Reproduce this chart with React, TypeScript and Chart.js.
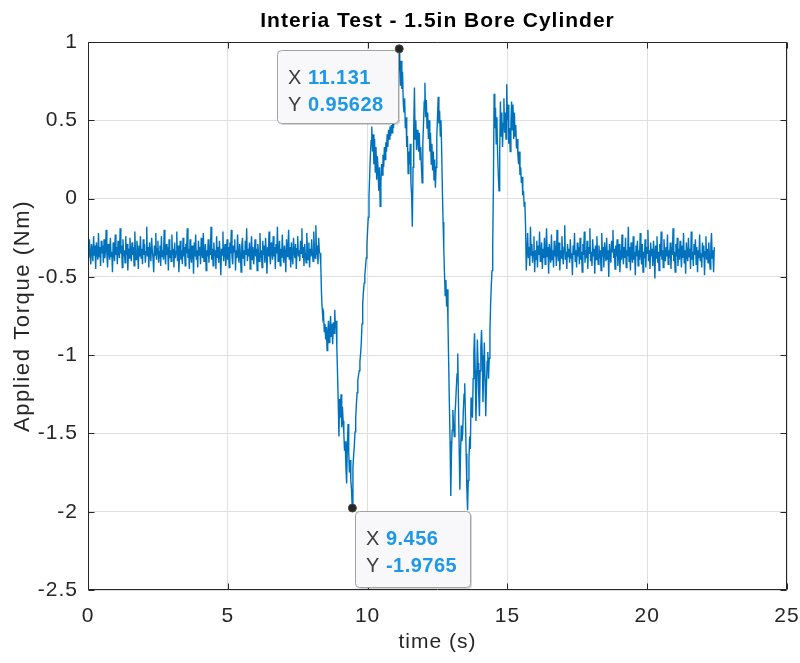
import { useEffect, useRef } from "react";
import { Chart, registerables } from "chart.js";

Chart.register(...registerables);

// ---------- text ----------
const TITLE = "Interia Test - 1.5in Bore Cylinder";
const X_LABEL = "time (s)";
const Y_LABEL = "Applied Torque (Nm)";

// ---------- axes ----------
const X_TICKS = [0, 5, 10, 15, 20, 25];
const Y_TICKS = [-2.5, -2, -1.5, -1, -0.5, 0, 0.5, 1];

// ---------- samples (torque, Nm), sampled every SAMPLE_DT seconds ----------
const SAMPLE_DT = 0.025;
const START_A = 0; // idle before the move
const START_EVENT = 8.3; // the move
const START_B = 15.7; // idle after the move

const BASELINE_A = [
  -.31,-.38,-.26,-.35,-.42,-.29,-.33,-.40,-.24,-.36,-.30,-.45,-.28,-.34,-.39,-.22,-.37,-.31,-.43,-.27,
  -.35,-.30,-.41,-.26,-.38,-.33,-.20,-.36,-.44,-.29,-.32,-.39,-.25,-.37,-.34,-.47,-.28,-.33,-.40,-.23,
  -.36,-.31,-.42,-.27,-.34,-.38,-.19,-.35,-.30,-.44,-.26,-.37,-.33,-.41,-.24,-.36,-.29,-.46,-.32,-.38,
  -.25,-.34,-.40,-.28,-.36,-.31,-.43,-.21,-.35,-.39,-.27,-.33,-.45,-.30,-.37,-.24,-.38,-.32,-.42,-.26,
  -.36,-.29,-.41,-.34,-.18,-.37,-.31,-.44,-.28,-.35,-.40,-.25,-.33,-.38,-.47,-.30,-.36,-.22,-.39,-.32,
  -.27,-.41,-.34,-.30,-.43,-.24,-.37,-.33,-.39,-.20,-.35,-.42,-.29,-.36,-.31,-.46,-.26,-.38,-.33,-.40,
  -.23,-.36,-.32,-.44,-.28,-.38,-.34,-.21,-.40,-.30,-.47,-.35,-.27,-.39,-.33,-.42,-.25,-.37,-.31,-.43,
  -.29,-.35,-.19,-.38,-.32,-.45,-.26,-.36,-.41,-.30,-.34,-.48,-.28,-.37,-.23,-.39,-.33,-.44,-.27,-.36,
  -.31,-.42,-.25,-.35,-.38,-.22,-.40,-.34,-.29,-.46,-.33,-.37,-.26,-.41,-.30,-.36,-.18,-.39,-.32,-.43,
  -.28,-.37,-.33,-.45,-.24,-.38,-.31,-.41,-.27,-.35,-.49,-.32,-.36,-.21,-.40,-.34,-.29,-.43,-.37,-.26,
  -.39,-.31,-.44,-.28,-.35,-.20,-.37,-.42,-.30,-.34,-.26,-.46,-.33,-.38,-.23,-.36,-.41,-.29,-.35,-.47,
  -.30,-.25,-.38,-.33,-.43,-.27,-.36,-.19,-.40,-.32,-.37,-.28,-.45,-.34,-.24,-.39,-.31,-.42,-.35,-.26,
  -.37,-.32,-.46,-.29,-.35,-.40,-.22,-.38,-.33,-.44,-.27,-.36,-.30,-.41,-.25,-.34,-.48,-.31,-.37,-.21,
  -.36,-.42,-.28,-.33,-.39,-.24,-.37,-.31,-.45,-.29,-.35,-.18,-.40,-.34,-.27,-.43,-.32,-.38,-.23,-.36,
  -.41,-.30,-.35,-.47,-.26,-.37,-.33,-.20,-.39,-.31,-.44,-.28,-.36,-.42,-.25,-.34,-.38,-.29,-.45,-.32,
  -.24,-.37,-.33,-.40,-.27,-.35,-.19,-.38,-.31,-.43,-.29,-.36,-.41,-.22,-.34,-.39,-.28,-.44,-.32,-.37,
  -.26,-.35,-.40,-.21,-.33,-.38,-.17,-.36,-.30,-.42,-.25,-.34,
];

const EVENT = [
  // 8.300 - 8.775
  -.35,-.42,-.60,-.70,-.76,-.74,-.85,-.80,-.90,-.82,-.97,-.86,-.78,-.92,-.84,-.75,-.88,-.80,-.93,-.79,
  // 8.800 - 9.275
  -.86,-.71,-.83,-.78,-.95,-1.12,-1.30,-1.52,-1.28,-1.40,-1.25,-1.46,-1.33,-1.42,-1.50,-1.61,-1.55,-1.72,-1.82,-1.58,
  // 9.300 - 9.775
  -1.44,-1.62,-1.75,-1.67,-1.80,-1.86,-1.97,-1.72,-1.64,-1.58,-1.49,-1.40,-1.31,-1.24,-1.16,-1.13,-1.10,-1.04,-.99,-.92,
  // 9.800 - 10.275
  -.80,-.67,-.60,-.54,-.49,-.44,-.38,-.30,-.20,-.12,.02,.15,.28,.37,.46,.30,.41,.22,.38,.17,
  // 10.300 - 10.775
  .33,.12,.27,.18,.05,.20,-.05,.10,.22,.15,.28,.20,.33,.25,.36,.30,.41,.33,.44,.38,
  // 10.800 - 11.275
  .46,.40,.47,.42,.51,.45,.55,.50,.62,.58,.74,.93,.80,.956,.85,.72,.88,.70,.81,.62,
  // 11.300 - 11.775
  .55,.64,.45,.52,.33,.40,.16,.30,.22,.35,.10,.02,-.18,.20,.45,.71,.38,.50,.31,.44,
  // 11.800 - 12.275
  .36,.30,.42,.25,.33,.20,.10,.35,.48,.62,.74,.52,.63,.45,.55,.38,.50,.30,.42,.22,
  // 12.300 - 12.775
  .35,.18,.30,.12,.25,.07,.20,.40,.52,.65,.48,.56,.40,.50,.30,.05,-.15,-.32,-.48,-.62,
  // 12.800 - 13.275
  -.52,-.69,-.58,-.80,-1.05,-1.31,-1.55,-1.90,-1.62,-1.48,-1.35,-1.45,-1.52,-1.38,-1.30,-1.20,-1.12,-.99,-1.30,-1.60,
  // 13.300 - 13.775
  -1.86,-1.62,-1.45,-1.55,-1.50,-1.35,-1.25,-1.18,-1.40,-1.63,-1.85,-1.99,-1.80,-1.67,-1.52,-1.60,-1.27,-1.36,-1.40,-1.15,
  // 13.800 - 14.275
  -.98,-.86,-1.10,-1.42,-1.20,-.90,-1.05,-1.25,-1.39,-1.10,-.95,-.84,-1.00,-1.30,-1.12,-.92,-1.15,-1.39,-1.20,-1.04,
  // 14.300 - 14.775
  -.98,-1.15,-1.02,-.85,-.67,-.55,-.46,-.30,.10,.67,.45,.58,.35,.52,.28,.15,.05,.30,.62,.40,
  // 14.800 - 15.275
  .55,.33,.48,.64,.42,.55,.38,.73,.50,.60,.35,.45,.30,.48,.62,.44,.60,.38,.55,.40,
  // 15.300 - 15.675
  .47,.32,.38,.28,.22,.30,.15,.20,.10,.14,.02,.05,-.05,-.02,-.18,-.46,
];

const BASELINE_B = [
  -.46,-.22,-.38,-.31,-.43,-.18,-.36,-.29,-.41,-.34,-.24,-.47,-.33,-.39,-.27,-.44,-.30,-.36,-.21,-.40,
  -.35,-.28,-.45,-.32,-.38,-.25,-.42,-.34,-.19,-.37,-.31,-.48,-.29,-.36,-.41,-.23,-.39,-.33,-.44,-.27,
  -.37,-.30,-.43,-.20,-.35,-.40,-.28,-.46,-.33,-.38,-.24,-.36,-.42,-.31,-.17,-.39,-.34,-.45,-.29,-.37,
  -.32,-.41,-.26,-.38,-.35,-.49,-.30,-.36,-.22,-.40,-.33,-.44,-.28,-.37,-.31,-.42,-.25,-.39,-.34,-.47,
  -.29,-.36,-.21,-.41,-.33,-.38,-.27,-.45,-.31,-.35,-.19,-.40,-.34,-.43,-.26,-.37,-.32,-.48,-.30,-.39,
  -.24,-.36,-.42,-.30,-.38,-.33,-.46,-.22,-.37,-.31,-.44,-.28,-.35,-.40,-.25,-.39,-.33,-.50,-.29,-.36,
  -.41,-.27,-.34,-.20,-.38,-.32,-.45,-.30,-.37,-.26,-.43,-.35,-.29,-.47,-.33,-.39,-.23,-.36,-.42,-.31,
  -.38,-.25,-.44,-.33,-.37,-.18,-.40,-.31,-.46,-.28,-.36,-.41,-.24,-.39,-.34,-.49,-.30,-.37,-.27,-.43,
  -.33,-.39,-.22,-.36,-.42,-.29,-.47,-.34,-.38,-.26,-.44,-.31,-.35,-.20,-.40,-.33,-.45,-.28,-.37,-.32,
  -.43,-.27,-.36,-.51,-.30,-.38,-.24,-.41,-.34,-.46,-.29,-.37,-.21,-.39,-.33,-.44,-.26,-.35,-.40,-.31,
  -.37,-.23,-.42,-.33,-.38,-.28,-.45,-.31,-.36,-.19,-.40,-.34,-.47,-.29,-.37,-.25,-.43,-.32,-.39,-.27,
  -.35,-.44,-.30,-.38,-.22,-.41,-.33,-.48,-.28,-.36,-.40,-.25,-.37,-.32,-.45,-.21,-.39,-.34,-.43,-.29,
  -.36,-.26,-.42,-.31,-.47,-.33,-.38,-.23,-.40,-.35,-.44,-.28,-.37,-.30,-.49,-.34,-.24,-.39,-.32,-.41,
  -.28,-.36,-.45,-.30,-.22,-.38,-.33,-.47,-.31,
];

// ---------- data tips ----------
const TIP_X = [11.131, 9.456];
const TIP_Y = [0.95628, -1.9765];
const TIP_X_TEXT = ["11.131", "9.456"];
const TIP_Y_TEXT = ["0.95628", "-1.9765"];

// ---------- styling / layout ----------
const FONT = "'Liberation Sans', Arial, Helvetica, sans-serif";
const AXIS_COLOR = "#262626";
const GRID_COLOR = "#dfdfdf";
const LINE_COLOR = "#0072BD";
const TIP_BOXES = [
  { dx: -122.5, dy: 1.5, w: 121, h: 73 },
  { dx: 2.5, dy: 3, w: 115, h: 76 },
];

function segment(start: number, values: number[]) {
  return values.map((v, i) => ({ x: start + i * SAMPLE_DT, y: v }));
}

const matlabPlugin = {
  id: "matlabLook",
  beforeDraw(chart: any) {
    chart.ctx.letterSpacing = "1px";
  },
  afterDraw(chart: any) {
    const { ctx, chartArea } = chart;
    const { left, right, top, bottom } = chartArea;
    const xs = chart.scales.x;
    const ys = chart.scales.y;
    ctx.save();
    ctx.strokeStyle = AXIS_COLOR;
    ctx.lineWidth = 1;
    const L = Math.round(left) + 0.5;
    const R = Math.round(right) - 0.5;
    const T = Math.round(top) + 0.5;
    const B = Math.round(bottom) - 0.5;
    ctx.beginPath();
    ctx.rect(L, T, R - L, B - T);
    // inward tick marks
    X_TICKS.forEach((v) => {
      const p = Math.round(xs.getPixelForValue(v)) + 0.5;
      ctx.moveTo(p, B);
      ctx.lineTo(p, B - 6);
      ctx.moveTo(p, T);
      ctx.lineTo(p, T + 6);
    });
    Y_TICKS.forEach((v) => {
      const p = Math.round(ys.getPixelForValue(v)) + 0.5;
      ctx.moveTo(L, p);
      ctx.lineTo(L + 6, p);
      ctx.moveTo(R, p);
      ctx.lineTo(R - 6, p);
    });
    ctx.stroke();

    // y-axis title (drawn here so its spacing can be set)
    ctx.save();
    ctx.translate(23, (top + bottom) / 2);
    ctx.rotate(-Math.PI / 2);
    ctx.font = `22px ${FONT}`;
    ctx.letterSpacing = "1.6px";
    ctx.fillStyle = AXIS_COLOR;
    ctx.textAlign = "center";
    ctx.textBaseline = "middle";
    ctx.fillText(Y_LABEL, 0, 0);
    ctx.restore();

    // data tips
    TIP_X.forEach((tx, i) => {
      const mx = xs.getPixelForValue(tx);
      const my = ys.getPixelForValue(TIP_Y[i]);
      const b = TIP_BOXES[i];
      const bx = Math.round(mx + b.dx);
      const by = Math.round(my + b.dy);
      ctx.fillStyle = "rgba(0,0,0,0.16)";
      ctx.beginPath();
      (ctx as any).roundRect(bx + 2, by + 2, b.w, b.h, 4);
      ctx.fill();
      ctx.fillStyle = "#f8f8fa";
      ctx.strokeStyle = "#a3a3a3";
      ctx.beginPath();
      (ctx as any).roundRect(bx + 0.5, by + 0.5, b.w, b.h, 4);
      ctx.fill();
      ctx.stroke();

      ctx.letterSpacing = "0.5px";
      ctx.textBaseline = "alphabetic";
      ctx.textAlign = "left";
      const lines = [
        ["X", TIP_X_TEXT[i]],
        ["Y", TIP_Y_TEXT[i]],
      ];
      lines.forEach(([lab, val], k) => {
        const ty = by + 33.5 + k * 27;
        const tx0 = bx + 11;
        ctx.font = `20px ${FONT}`;
        ctx.fillStyle = "#3c3c3c";
        ctx.fillText(lab + " ", tx0, ty);
        const w = ctx.measureText(lab + " ").width;
        ctx.font = `bold 20px ${FONT}`;
        ctx.fillStyle = "#1b98e8";
        ctx.fillText(val, tx0 + w, ty);
      });

      ctx.beginPath();
      ctx.arc(mx, my, 4, 0, Math.PI * 2);
      ctx.fillStyle = "#262626";
      ctx.fill();
      ctx.lineWidth = 1;
      ctx.strokeStyle = "#4a4a3a";
      ctx.stroke();
    });
    ctx.restore();
  },
};

export default function App() {
  const ref = useRef<HTMLCanvasElement | null>(null);

  useEffect(() => {
    document.body.style.margin = "0";
    const canvas = ref.current;
    if (!canvas) return;
    const points = [
      ...segment(START_A, BASELINE_A),
      ...segment(START_EVENT, EVENT),
      ...segment(START_B, BASELINE_B),
    ];
    const tickFont = { family: FONT, size: 21 };
    const chart = new Chart(canvas, {
      type: "line",
      data: {
        datasets: [
          {
            data: points,
            borderColor: LINE_COLOR,
            borderWidth: 1.4,
            pointRadius: 0,
            tension: 0,
            fill: false,
          },
        ],
      },
      options: {
        responsive: false,
        animation: false,
        devicePixelRatio: 1,
        events: [],
        layout: { padding: { top: 0, right: 13, bottom: 0, left: 0 } },
        plugins: {
          legend: { display: false },
          tooltip: { enabled: false },
          title: {
            display: true,
            text: TITLE,
            fullSize: false,
            color: "#000000",
            font: { family: FONT, size: 21, weight: "bold" },
            padding: { top: 9, bottom: 7.8 },
          },
        },
        scales: {
          x: {
            type: "linear",
            min: 0,
            max: 25,
            afterBuildTicks: (s: any) => {
              s.ticks = X_TICKS.map((v) => ({ value: v }));
            },
            afterFit: (s: any) => {
              s.height = 73;
              s.paddingLeft = 0;
              s.paddingRight = 0;
            },
            ticks: {
              color: AXIS_COLOR,
              font: tickFont,
              padding: 14,
              maxRotation: 0,
              callback: (v: any) => String(v),
            },
            grid: { color: GRID_COLOR, drawTicks: false, lineWidth: 1 },
            border: { display: false },
            title: {
              display: true,
              text: X_LABEL,
              color: AXIS_COLOR,
              font: { family: FONT, size: 21 },
              padding: { top: 0, bottom: 8 },
            },
          },
          y: {
            type: "linear",
            min: -2.5,
            max: 1,
            afterBuildTicks: (s: any) => {
              s.ticks = Y_TICKS.map((v) => ({ value: v }));
            },
            afterFit: (s: any) => {
              s.width = 88;
              s.paddingTop = 0;
              s.paddingBottom = 0;
            },
            ticks: {
              color: AXIS_COLOR,
              font: tickFont,
              padding: 10,
              callback: (v: any) => String(v),
            },
            grid: { color: GRID_COLOR, drawTicks: false, lineWidth: 1 },
            border: { display: false },
            title: { display: false },
          },
        },
      },
      plugins: [matlabPlugin],
    } as any);
    return () => chart.destroy();
  }, []);

  return (
    <canvas
      ref={ref}
      width={800}
      height={663}
      style={{ position: "absolute", left: 0, top: 0, width: 800, height: 663, background: "#ffffff" }}
    />
  );
}
